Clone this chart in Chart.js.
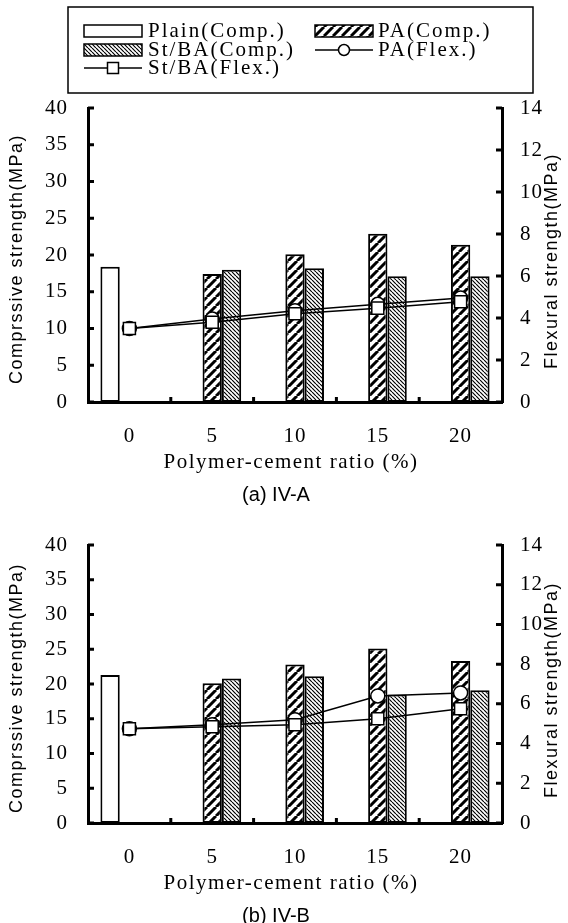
<!DOCTYPE html>
<html><head><meta charset="utf-8">
<script src="https://cdn.jsdelivr.net/npm/chart.js@4.4.0/dist/chart.umd.min.js"></script>
<style>
html,body{margin:0;padding:0;background:#fff;}
canvas{display:block;}
</style></head><body>
<canvas id="chartA" width="568" height="510"></canvas>
<canvas id="chartB" width="568" height="413"></canvas>
<script>
// polymer-cement ratio categories
const ratios = ['0', '5', '10', '15', '20'];

// (a) IV-A
const plainCompA = [18.4, null, null, null, null];
const paCompA    = [null, 17.4, 20.1, 22.9, 21.4];
const stbaCompA  = [null, 18.0, 18.2, 17.1, 17.1];
const paFlexA    = [3.5, 3.95, 4.35, 4.65, 4.95];
const stbaFlexA  = [3.5, 3.8, 4.2, 4.47, 4.77];

// (b) IV-B
const plainCompB = [21.3, null, null, null, null];
const paCompB    = [null, 20.1, 22.8, 25.1, 23.3];
const stbaCompB  = [null, 20.8, 21.1, 18.5, 19.1];
const paFlexB    = [4.75, 4.95, 5.2, 6.4, 6.55];
const stbaFlexB  = [4.75, 4.85, 4.95, 5.25, 5.75];

// axis ranges / steps
const compMax = 40, compStep = 5;
const flexMax = 14, flexStep = 2;

const SERIF = "'Liberation Serif', 'Times New Roman', serif";
const SANS = "'Liberation Sans', Arial, sans-serif";

function hatch(size, lw, dir) {
  const c = document.createElement('canvas');
  c.width = c.height = size;
  const g = c.getContext('2d');
  g.fillStyle = '#fff';
  g.fillRect(0, 0, size, size);
  g.strokeStyle = '#000';
  g.lineWidth = lw;
  g.beginPath();
  for (let k = -1; k <= 1; k++) {
    if (dir === '/') { g.moveTo(k * size, size); g.lineTo(k * size + size, 0); }
    else { g.moveTo(k * size, 0); g.lineTo(k * size + size, size); }
  }
  g.stroke();
  return g.createPattern(c, 'repeat');
}
const paFill = hatch(9, 3, '/');
const stbaFill = hatch(4, 1.2, '\\');

// inward tick marks, axis titles and captions
const decor = {
  id: 'decor',
  beforeDraw(chart) { chart.ctx.letterSpacing = '1px'; },
  afterDraw(chart) {
    const ctx = chart.ctx, o = chart.options.plugins.decor;
    const {x, y, y1} = chart.scales;
    const ca = chart.chartArea;
    ctx.save();
    ctx.letterSpacing = '0px';
    ctx.strokeStyle = '#000';
    ctx.lineWidth = 3;
    ctx.beginPath();
    y.ticks.forEach((t, i) => { const p = y.getPixelForTick(i); ctx.moveTo(ca.left, p); ctx.lineTo(ca.left + 6, p); });
    y1.ticks.forEach((t, i) => { const p = y1.getPixelForTick(i); ctx.moveTo(ca.right, p); ctx.lineTo(ca.right - 6, p); });
    for (let i = 0; i < ratios.length - 1; i++) {
      const p = (x.getPixelForTick(i) + x.getPixelForTick(i + 1)) / 2;
      ctx.moveTo(p, ca.bottom); ctx.lineTo(p, ca.bottom - 5);
    }
    ctx.stroke();

    ctx.fillStyle = '#000';
    ctx.textAlign = 'center';
    ctx.textBaseline = 'middle';
    const mid = (ca.top + ca.bottom) / 2;
    ctx.font = '18px ' + SANS;
    ctx.letterSpacing = '1.5px';
    ctx.save(); ctx.translate(17, mid + 4); ctx.rotate(-Math.PI / 2);
    ctx.fillText('Comprssive strength(MPa)', 0, 0); ctx.restore();
    ctx.save(); ctx.translate(552, mid + 6); ctx.rotate(-Math.PI / 2);
    ctx.fillText('Flexural strength(MPa)', 0, 0); ctx.restore();

    const cx = (ca.left + ca.right) / 2;
    ctx.letterSpacing = '1.5px';
    ctx.font = '21px ' + SERIF;
    ctx.fillText('Polymer-cement ratio (%)', cx - 4, ca.bottom + 60);
    ctx.letterSpacing = '0px';
    ctx.font = '20px ' + SANS;
    ctx.fillText(o.caption, cx - 19, ca.bottom + 93);
    ctx.restore();
  }
};

// legend box of the upper chart
const legendBox = {
  id: 'legendBox',
  afterDraw(chart) {
    if (!chart.options.plugins.legendBox.show) return;
    const ctx = chart.ctx;
    ctx.save();
    ctx.strokeStyle = '#000';
    ctx.lineWidth = 1.5;
    ctx.strokeRect(68, 7, 465, 86);
    const rowY = [31, 50, 68];
    const cols = [84, 315];
    const sw = 58;
    function swatch(x0, yc, fill) {
      ctx.fillStyle = fill; ctx.fillRect(x0, yc - 6, sw, 12);
      ctx.lineWidth = 1.5; ctx.strokeRect(x0, yc - 6, sw, 12);
    }
    function lineMark(x0, yc, shape) {
      ctx.lineWidth = 1.5;
      ctx.beginPath(); ctx.moveTo(x0, yc); ctx.lineTo(x0 + sw, yc); ctx.stroke();
      ctx.fillStyle = '#fff';
      ctx.beginPath();
      if (shape === 'circle') ctx.arc(x0 + sw / 2, yc, 5.5, 0, Math.PI * 2);
      else ctx.rect(x0 + sw / 2 - 5.5, yc - 5.5, 11, 11);
      ctx.fill(); ctx.stroke();
    }
    swatch(cols[0], rowY[0], '#fff');
    swatch(cols[1], rowY[0], paFill);
    swatch(cols[0], rowY[1], stbaFill);
    lineMark(cols[1], rowY[1], 'circle');
    lineMark(cols[0], rowY[2], 'rect');
    ctx.fillStyle = '#000';
    ctx.font = '21px ' + SERIF;
    ctx.letterSpacing = '2px';
    ctx.textBaseline = 'middle';
    ctx.textAlign = 'left';
    ctx.fillText('Plain(Comp.)', 148, rowY[0]);
    ctx.fillText('PA(Comp.)', 378, rowY[0]);
    ctx.fillText('St/BA(Comp.)', 148, rowY[1]);
    ctx.fillText('PA(Flex.)', 378, rowY[1]);
    ctx.fillText('St/BA(Flex.)', 148, rowY[2]);
    ctx.restore();
  }
};

function makeChart(id, d) {
  const canvasH = document.getElementById(id).height;
  const tickFont = {family: SERIF, size: 21};
  new Chart(document.getElementById(id), {
    type: 'bar',
    data: {
      labels: ratios,
      datasets: [
        {type: 'line', label: 'St/BA(Flex.)', data: d.stbaFlex, yAxisID: 'y1', order: 0,
         borderColor: '#000', borderWidth: 1.5, pointStyle: 'rect', pointRadius: 8.5,
         pointBackgroundColor: '#fff', pointBorderColor: '#000', pointBorderWidth: 1.5},
        {type: 'line', label: 'PA(Flex.)', data: d.paFlex, yAxisID: 'y1', order: 1,
         borderColor: '#000', borderWidth: 1.5, pointStyle: 'circle', pointRadius: 7,
         pointBackgroundColor: '#fff', pointBorderColor: '#000', pointBorderWidth: 1.5},
        {label: 'Plain(Comp.)', data: d.plain, yAxisID: 'y', order: 2,
         backgroundColor: '#fff', borderColor: '#000', borderWidth: 2, borderSkipped: false},
        {label: 'PA(Comp.)', data: d.pa, yAxisID: 'y', order: 2,
         backgroundColor: paFill, borderColor: '#000', borderWidth: 2, borderSkipped: false},
        {label: 'St/BA(Comp.)', data: d.stba, yAxisID: 'y', order: 2,
         backgroundColor: stbaFill, borderColor: '#000', borderWidth: 2, borderSkipped: false}
      ]
    },
    options: {
      responsive: false, animation: false, devicePixelRatio: 1,
      datasets: {bar: {categoryPercentage: 0.7, barPercentage: 1.0}},
      layout: {padding: {top: d.plotTop, left: 0, right: 0, bottom: 0}},
      plugins: {legend: {display: false}, tooltip: {enabled: false},
        decor: {caption: d.caption}, legendBox: {show: d.legend}},
      scales: {
        x: {offset: true, grid: {display: false, drawTicks: false},
            border: {display: true, width: 3, color: '#000'},
            ticks: {color: '#000', font: tickFont, padding: 22},
            afterFit: s => { s.height = canvasH - d.plotBottom; }},
        y: {position: 'left', min: 0, max: compMax,
            grid: {display: false, drawTicks: false},
            border: {display: true, width: 3, color: '#000'},
            ticks: {stepSize: compStep, color: '#000', font: tickFont, padding: 20},
            afterFit: s => { s.width = 88; }},
        y1: {position: 'right', min: 0, max: flexMax,
            grid: {display: false, drawTicks: false},
            border: {display: true, width: 3, color: '#000'},
            ticks: {stepSize: flexStep, color: '#000', font: tickFont, padding: 18},
            afterFit: s => { s.width = 66; }}
      }
    },
    plugins: [decor, legendBox]
  });
}

makeChart('chartA', {plain: plainCompA, pa: paCompA, stba: stbaCompA, paFlex: paFlexA, stbaFlex: stbaFlexA,
  plotTop: 108, plotBottom: 402, caption: '(a) IV-A', legend: true});
makeChart('chartB', {plain: plainCompB, pa: paCompB, stba: stbaCompB, paFlex: paFlexB, stbaFlex: stbaFlexB,
  plotTop: 35, plotBottom: 313, caption: '(b) IV-B', legend: false});
</script>
</body></html>
